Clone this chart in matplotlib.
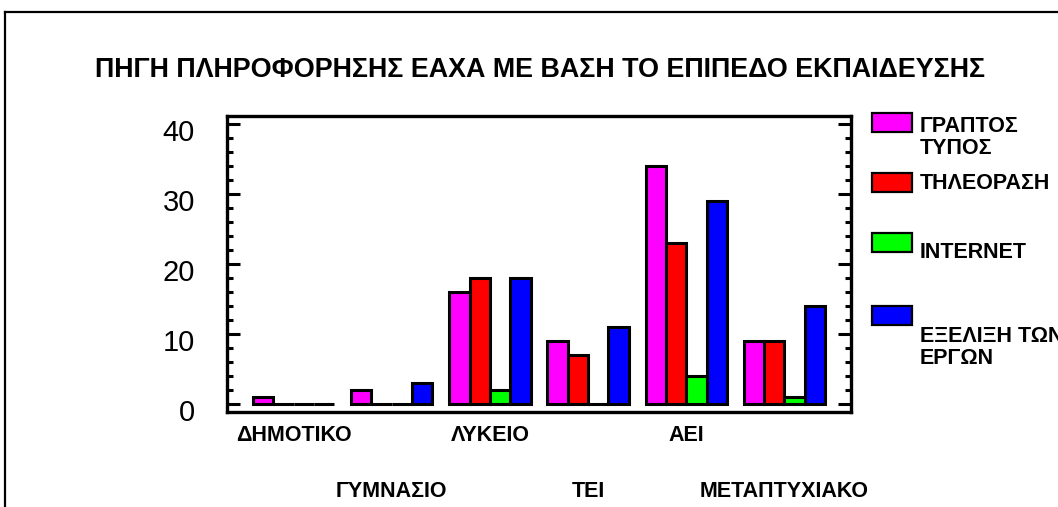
import numpy as np
import matplotlib
matplotlib.use('Agg')
import matplotlib.pyplot as plt
from matplotlib import patches
from matplotlib.lines import Line2D
from matplotlib.transforms import ScaledTranslation

plt.rcParams['font.family'] = ['Liberation Sans', 'DejaVu Sans']

# data
levels = ['ΔΗΜΟΤΙΚΟ', 'ΓΥΜΝΑΣΙΟ', 'ΛΥΚΕΙΟ', 'ΤΕΙ', 'ΑΕΙ', 'ΜΕΤΑΠΤΥΧΙΑΚΟ']
graptos_typos = [1, 2, 16, 9, 34, 9]
tileorasi = [0, 0, 18, 7, 23, 9]
internet = [0, 0, 2, 0, 4, 1]
exelixi_ergon = [0, 3, 18, 11, 29, 14]
series_names = ['ΓΡΑΠΤΟΣ\nΤΥΠΟΣ', 'ΤΗΛΕΟΡΑΣΗ', 'INTERNET', 'ΕΞΕΛΙΞΗ ΤΩΝ\nΕΡΓΩΝ']
colours = ['#ff00ff', '#ff0000', '#00ff00', '#0000ff']

W, H = 1058, 507
fig = plt.figure(figsize=(W/100, H/100), dpi=100)
ax = fig.add_axes([227/W, 1-412/H, (851-227)/W, (412-116)/H])

x = np.arange(len(levels))
w = 0.207
series = [graptos_typos, tileorasi, internet, exelixi_ergon]
for j, vals in enumerate(series):
    ax.bar(x + (j-1.5)*w, vals, width=w, color=colours[j],
           edgecolor='black', linewidth=2.2, zorder=3)

ax.set_xlim(-0.679, 5.679)
ax.set_ylim(-1.14, 41.14)
ax.set_xticks([])
ax.set_yticks([0, 10, 20, 30, 40])
ax.set_yticks(np.arange(0, 41, 2), minor=True)
ax.tick_params(axis='y', which='major', direction='in', length=9.5, width=2.2,
               left=True, right=True, labelsize=21, pad=23)
ax.tick_params(axis='y', which='minor', direction='in', length=4.5, width=2.2,
               left=True, right=True)
for s in ax.spines.values():
    s.set_linewidth(2.4)

# tick labels sit a little low in the original
off = ScaledTranslation(0, -6/100, fig.dpi_scale_trans)
for lab in ax.get_yticklabels():
    lab.set_transform(lab.get_transform() + off)

# staggered category labels
for i, name in enumerate(levels):
    yy = -0.098 if i % 2 == 0 else -0.287
    ax.text(i, yy, name, transform=ax.get_xaxis_transform(), ha='center',
            va='baseline', fontsize=15.5, fontweight='bold')

fig.text(540/W, 1-77/H, 'ΠΗΓΗ ΠΛΗΡΟΦΟΡΗΣΗΣ ΕΑΧΑ ΜΕ ΒΑΣΗ ΤΟ ΕΠΙΠΕΔΟ ΕΚΠΑΙΔΕΥΣΗΣ',
         ha='center', va='baseline', fontsize=19.4, fontweight='bold')

# legend, drawn by hand like the original (last label runs off the edge there too)
patch_top = [113, 173, 233, 306]
text_base = [132, 189, 258, 342]
for j in range(4):
    fig.patches.append(patches.Rectangle((872/W, 1-(patch_top[j]+19)/H), 40/W, 19/H,
                                         facecolor=colours[j], edgecolor='black',
                                         linewidth=1.6, transform=fig.transFigure))
    for k, line in enumerate(series_names[j].split('\n')):
        fig.text(920/W, 1-(text_base[j] + k*21.5)/H, line, ha='left',
                 va='baseline', fontsize=15.5, fontweight='bold')

# outer frame
fig.add_artist(Line2D([5/W, 5/W], [-0.1, 1-12/H], color='black', linewidth=1.6))
fig.add_artist(Line2D([5/W, 1.1], [1-12/H, 1-12/H], color='black', linewidth=1.6))

plt.savefig('out.png', dpi=100)
